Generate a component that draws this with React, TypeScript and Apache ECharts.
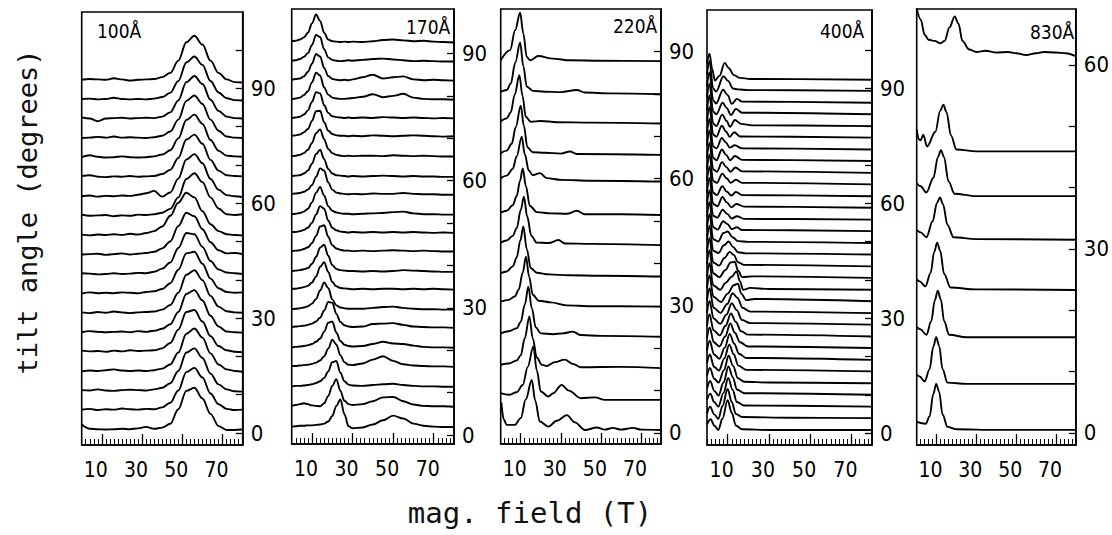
import React, { useEffect, useRef } from "react";
import * as echarts from "echarts";

// ---------- shared axis data ----------
const xTickValues = [10, 30, 50, 70];
const panelLabels = ["100Å", "170Å", "220Å", "400Å", "830Å"];
const p1Ticks = [0, 10, 20, 30, 40, 50, 60, 70, 80, 90, 100];
const p2Ticks = [0, 10, 20, 30, 40, 50, 60, 70, 80, 90];
const p5Ticks = [0, 10, 20, 30, 40, 50, 60];
const yLabels90 = [0, 30, 60, 90];
const yLabels60 = [0, 30, 60];

// ---------- panel 1 (100 Å): grid of fields, heights above baseline ----------
const p1X = [0, 4, 8, 12, 16, 20, 24, 28, 32, 36, 40, 44, 48, 52, 56, 60, 64, 68, 72, 76, 80];
const p1Base = [0.8, 5.9, 10.9, 16, 21.1, 26.1, 31.2, 36.3, 41.3, 46.4, 51.5, 56.5, 61.6, 66.7, 71.7, 76.8, 81.9, 86.9, 92];
const p1H = [
  [1.4, 0.3, 0.2, 0.1, 0.2, 0.3, 0.2, 0.4, 0.8, 0.3, 0.6, 1.6, 5.4, 10.2, 11.0, 8.2, 4.2, 1.0, 0.0, 0.0, 0.1],
  [0.2, 0.4, 0.1, 0.3, 0.2, 0.5, 0.3, 0.2, 0.4, 0.3, 0.8, 2.0, 5.2, 10.0, 11.1, 8.6, 4.4, 1.6, 0.4, 0.1, 0.2],
  [0.3, 0.2, 0.5, 0.2, 0.1, 0.3, 0.4, 0.3, 0.2, 0.5, 0.9, 2.1, 5.3, 10.1, 11.2, 8.7, 4.6, 1.8, 0.5, 0.0, -0.1],
  [0.1, 0.3, 0.2, 0.4, 0.6, 0.3, 0.2, 0.3, 0.2, 0.4, 0.8, 1.9, 5.0, 9.9, 11.3, 8.9, 4.8, 1.9, 0.6, 0.2, 0.0],
  [0.4, 0.2, 0.3, 0.1, 0.4, 0.2, 0.5, 0.3, 0.4, 0.5, 1.0, 2.4, 5.9, 10.5, 11.0, 8.0, 4.2, 1.6, 0.5, 0.1, 0.0],
  [0.2, 0.5, 0.3, 0.2, 0.3, 0.4, 0.2, 0.5, 0.3, 0.6, 1.1, 2.3, 5.5, 10.2, 11.2, 8.5, 4.5, 1.7, 0.4, 0.2, 0.1],
  [0.3, 0.1, 0.4, 0.2, 0.5, 0.3, 0.1, 0.3, 0.4, 0.5, 1.0, 2.2, 5.4, 10.1, 11.3, 8.7, 4.6, 1.8, 0.6, 0.3, 0.2],
  [0.1, 0.4, 0.2, 0.3, 0.2, 0.4, 0.3, 0.2, 0.5, 0.7, 1.3, 2.8, 6.3, 10.6, 11.0, 7.9, 4.0, 1.5, 0.5, 0.3, 0.4],
  [0.4, 0.3, 0.1, 0.2, 0.4, 0.2, 0.3, 0.5, 0.4, 0.8, 1.6, 3.2, 7.0, 10.9, 10.6, 7.3, 3.6, 1.4, 0.6, 0.4, 0.2],
  [0.2, 0.3, 0.4, 0.1, 0.3, 0.5, 0.2, 0.4, 0.6, 0.9, 1.8, 3.6, 7.6, 11.1, 10.2, 6.8, 3.4, 1.3, 0.5, 0.6, 0.3],
  [0.3, 0.1, 0.3, 0.2, 0.4, 0.2, 0.5, 0.3, 0.7, 1.2, 2.4, 5.2, 8.6, 11.2, 10.0, 6.4, 3.0, 1.2, 0.4, 0.2, 0.1],
  [0.5, 0.2, 0.3, 0.4, 0.1, 0.3, 0.2, 0.5, 0.4, 0.6, 1.0, 2.0, 5.0, 9.8, 11.3, 9.0, 5.0, 2.1, 0.6, 0.4, 0.6],
  [0.2, 0.4, 0.1, 0.3, 0.2, 0.4, 0.3, 0.6, 1.0, 1.6, 0.1, 1.2, 4.8, 9.8, 11.2, 8.8, 4.7, 1.9, 0.5, 0.2, 0.0],
  [0.4, 0.6, 0.2, 0.1, 0.3, 0.2, 0.4, 0.2, 0.3, 0.4, 0.9, 2.0, 5.1, 9.9, 11.2, 8.8, 4.6, 1.8, 0.6, 0.4, 0.3],
  [0.3, 0.8, 0.4, 0.2, 0.3, 0.5, 0.3, 0.2, 0.3, 0.5, 1.0, 2.1, 5.2, 10.0, 11.4, 9.0, 4.8, 2.0, 0.7, 0.5, 0.4],
  [0.2, 0.3, 0.5, 0.3, 0.6, 0.3, 0.4, 0.3, 0.2, 0.4, 0.8, 1.9, 5.0, 9.9, 11.3, 9.1, 5.0, 2.1, 0.6, 0.3, 0.2],
  [0.5, 0.2, -0.5, 0.2, 0.3, 0.4, 0.2, 0.3, 0.4, 0.3, 0.7, 1.8, 4.9, 9.7, 11.3, 9.2, 5.1, 2.2, 0.7, 0.3, 0.2],
  [0.3, 0.4, 0.2, 0.3, 0.6, 0.3, 0.2, 0.3, 0.2, 0.4, 0.8, 1.9, 5.0, 9.8, 11.4, 9.2, 5.0, 2.0, 0.5, 0.0, -0.1],
  [0.2, 0.4, 0.3, 0.2, 0.6, 0.3, 0.0, 0.2, 0.3, 0.4, 0.9, 2.0, 5.2, 10.0, 11.7, 9.4, 5.2, 2.0, 0.3, -0.4, -0.5],
];

// ---------- panel 2 (170 Å) ----------
const p2X = [0, 2, 4, 6, 8, 10, 12, 14, 16, 18, 20, 22, 24, 26, 28, 30, 35, 40, 45, 50, 55, 60, 65, 70, 75, 80];
const p2Base = [1.9, 6.6, 11.3, 16, 20.5, 25.2, 29.5, 34.2, 38.4, 43.2, 47.6, 51.9, 56.6, 60.8, 65.6, 70.3, 74.6, 79, 83.5, 88, 92.5];
const p2H = [
  [0.1, 0.2, 0.3, 0.3, 0.4, 0.4, 0.5, 0.6, 0.8, 1.3, 2.6, 5.0, 6.5, 3.0, 0.2, -0.3, -0.1, 0.6, 1.6, 2.7, 2.0, 0.8, 0.3, 0.1, 0.0, 0.0],
  [0.3, 0.5, 0.7, 0.9, 0.7, 0.4, 0.3, 0.2, 0.9, 2.6, 5.0, 6.6, 3.8, 1.5, 0.7, 0.5, 0.7, 1.4, 2.3, 2.4, 1.4, 0.6, 0.3, 0.2, 0.2, 0.1],
  [0.2, 0.3, 0.3, 0.4, 0.5, 0.7, 1.0, 1.4, 2.2, 3.7, 5.9, 6.2, 3.4, 1.4, 0.6, 0.4, 0.3, 0.5, 0.7, 0.8, 0.5, 0.3, 0.2, 0.2, 0.1, 0.1],
  [0.3, 0.3, 0.4, 0.5, 0.6, 0.8, 1.1, 1.6, 2.6, 4.4, 6.5, 5.4, 2.8, 1.2, 0.6, 0.5, 0.9, 1.8, 2.6, 1.5, 0.7, 0.4, 0.3, 0.2, 0.2, 0.1],
  [0.2, 0.3, 0.4, 0.5, 0.7, 1.0, 1.5, 2.3, 3.9, 6.0, 6.3, 3.7, 1.7, 0.8, 0.5, 0.4, 0.5, 1.0, 1.5, 1.1, 1.0, 0.6, 0.3, 0.2, 0.2, 0.1],
  [0.3, 0.4, 0.5, 0.6, 0.8, 1.1, 1.6, 2.5, 4.2, 6.2, 6.0, 3.4, 1.5, 0.7, 0.4, 0.3, 0.4, 1.0, 1.1, 1.2, 0.8, 0.4, 0.3, 0.2, 0.2, 0.1],
  [0.2, 0.3, 0.4, 0.6, 0.9, 1.5, 2.6, 4.6, 6.5, 5.2, 2.5, 1.1, 0.6, 0.4, 0.3, 0.3, 0.3, 0.5, 0.7, 0.8, 0.5, 0.3, 0.2, 0.2, 0.1, 0.1],
  [0.3, 0.3, 0.5, 0.7, 1.0, 1.8, 3.2, 5.5, 6.6, 4.3, 1.9, 0.9, 0.5, 0.4, 0.3, 0.2, 0.3, 0.2, 0.3, 0.3, 0.2, 0.3, 0.2, 0.3, 0.2, 0.1],
  [0.3, 0.4, 0.5, 0.7, 1.0, 2.0, 3.6, 5.8, 6.5, 3.9, 1.7, 0.8, 0.5, 0.4, 0.3, 0.3, 0.2, 0.3, 0.2, 0.3, 0.5, 0.4, 0.3, 0.2, 0.1, 0.1],
  [0.2, 0.3, 0.4, 0.7, 1.1, 2.1, 3.8, 6.0, 6.3, 3.6, 1.6, 0.8, 0.5, 0.3, 0.3, 0.2, 0.3, 0.2, 0.3, 0.4, 0.3, 0.2, 0.3, 0.2, 0.1, 0.1],
  [0.3, 0.3, 0.5, 0.8, 1.3, 2.5, 4.4, 6.4, 5.8, 3.0, 1.3, 0.7, 0.4, 0.3, 0.2, 0.3, 0.2, 0.3, 0.2, 0.3, 0.2, 0.3, 0.2, 0.1, 0.2, 0.1],
  [0.2, 0.3, 0.5, 0.8, 1.5, 3.0, 5.3, 6.6, 4.6, 2.1, 1.0, 0.6, 0.4, 0.3, 0.3, 0.2, 0.3, 0.4, 0.5, 0.7, 0.8, 0.4, 0.2, 0.2, 0.1, 0.1],
  [0.3, 0.4, 0.5, 0.8, 1.3, 2.4, 4.3, 6.3, 5.8, 3.0, 1.3, 0.6, 0.4, 0.3, 0.2, 0.3, 0.2, 0.4, 0.3, 0.3, 0.5, 0.3, 0.2, 0.2, 0.1, 0.1],
  [0.3, 0.4, 0.5, 0.9, 1.6, 3.2, 5.5, 6.5, 4.3, 2.0, 0.9, 0.5, 0.4, 0.3, 0.2, 0.3, 0.2, 0.3, 0.4, 0.3, 0.2, 0.3, 0.2, 0.2, 0.1, 0.1],
  [0.2, 0.3, 0.5, 0.9, 1.7, 3.3, 5.6, 6.5, 4.2, 1.9, 0.9, 0.5, 0.3, 0.2, 0.3, 0.2, 0.3, 0.3, 0.2, 0.4, 0.3, 0.2, 0.3, 0.2, 0.1, 0.1],
  [0.3, 0.4, 0.6, 1.1, 1.9, 3.8, 6.1, 6.2, 3.5, 1.5, 0.7, 0.4, 0.3, 0.3, 0.2, 0.3, 0.2, 0.4, 0.3, 0.2, 0.3, 0.4, 0.3, 0.2, 0.1, 0.2],
  [0.2, 0.3, 0.5, 1.0, 2.0, 4.0, 6.3, 6.0, 3.2, 1.4, 0.6, 0.4, 0.3, 0.2, 0.3, 0.2, 0.3, 0.2, 0.4, 0.3, 0.2, 0.3, 0.2, 0.1, 0.2, 0.1],
  [0.2, 0.4, 0.6, 1.2, 2.1, 4.2, 6.5, 5.8, 3.0, 1.3, 0.6, 0.4, 0.3, 0.3, 0.4, 0.5, 0.8, 1.4, 0.7, 1.0, 1.5, 0.6, 0.3, 0.2, 0.2, 0.1],
  [0.3, 0.5, 0.6, 1.1, 2.2, 4.1, 6.4, 5.8, 3.1, 1.2, 0.5, 0.3, 0.2, 0.3, 0.2, 0.4, 0.9, 1.5, 0.6, 0.9, 1.1, 0.4, 0.2, 0.3, 0.2, 0.1],
  [0.3, 0.4, 0.7, 1.2, 2.1, 4.0, 6.4, 5.9, 3.0, 1.1, 0.5, 0.3, 0.2, 0.3, 0.4, 0.3, 0.5, 0.7, 0.8, 0.6, 0.4, 0.2, 0.3, 0.2, 0.1, 0.1],
  [0.4, 0.5, 0.8, 1.3, 2.4, 4.6, 6.7, 5.2, 2.4, 0.8, 0.4, 0.3, 0.2, 0.3, 0.2, 0.3, 0.2, 0.4, 0.7, 0.8, 0.6, 0.4, 0.5, 0.3, 0.2, 0.1],
];

// ---------- panel 3 (220 Å): [field, height] points per curve ----------
const p3Base = [0.7, 7.8, 15.3, 22.7, 29.8, 36.9, 44.3, 51.4, 59.3, 65.6, 73, 79.9, 87.7];
const p3Pts = [
  [[0.3, 6.5], [1.5, 2.5], [3, 1.2], [7, 1.2], [10, 2.8], [12.5, 7.2], [15.5, 11.8], [17.2, 7], [19.5, 2], [23.8, 0.8], [28, 2.2], [33, 3.5], [37, 1.8], [42, 0], [48, 0.6], [52, 0.1], [56, 0.5], [60, 0.1], [66, 0.5], [70, 0.1], [80, 0]],
  [[0, 1.6], [4, 1.2], [8, 1.8], [11, 3.5], [13.5, 7.8], [16.3, 12.6], [18, 7], [20, 2], [23.8, 0.8], [26, 1.5], [30.4, 3.5], [34, 2.2], [40, 0.4], [47, 0.6], [52, 0], [80, 0]],
  [[0, 0.8], [4, 1.1], [8, 1.8], [10, 3], [12, 7], [14.3, 12.2], [16, 7], [18, 2.5], [20.5, 0.8], [23, 0.5], [27, 1.4], [32, 2], [36, 1], [40, 0.2], [60, 0.3], [80, 0]],
  [[0, 0.8], [4, 1.3], [8, 2], [10, 3.5], [12, 7.5], [13.8, 11.8], [15.5, 6.8], [17.5, 2.2], [20, 0.8], [26, 0.6], [31, 0.8], [36, 1.2], [40, 0.4], [50, 0.2], [80, 0]],
  [[0, 1.2], [4, 1.6], [7, 2.4], [9, 4], [11, 8], [12.6, 11.8], [14.2, 7], [16, 2.8], [19, 1.4], [25, 1], [33, 0.3], [45, 0.1], [80, 0]],
  [[0, 0.8], [3, 1.2], [6, 2.4], [8, 4.5], [9.8, 8.5], [11.3, 11.8], [13, 6.5], [15, 2], [18, 0.9], [24, 0.5], [34, 0.3], [50, 0.2], [80, 0]],
  [[0, 0.6], [3, 1.1], [6, 2.2], [8, 4], [10, 8.3], [11.6, 11.4], [13.2, 6.8], [15.3, 2.2], [18, 0.6], [24, 0.5], [28.8, 1.2], [32, 0.4], [45, 0.3], [80, 0]],
  [[0, 0.6], [3, 1], [6, 2.3], [8, 4.5], [9.6, 8], [11, 11], [12.6, 6.8], [14.5, 2.2], [18, 0.7], [25, 0.4], [33, 0.3], [38, 1], [42, 0.2], [60, 0.2], [80, 0]],
  [[0, 0.8], [3, 1.4], [6, 3], [8, 6], [10.5, 10.6], [12, 6.5], [14, 2.6], [16, 1.5], [19.6, 2], [23, 0.8], [30, 0.4], [45, 0.2], [80, 0]],
  [[0, 0.4], [3, 1], [5.5, 2.6], [7.5, 6.5], [10, 11.6], [11.6, 6.8], [13.3, 1.8], [16, 0.6], [22, 0.5], [30, 0.3], [34.6, 0.8], [38, 0.2], [80, 0]],
  [[0, 0.5], [3, 1.2], [5, 2.6], [7, 6.8], [9.3, 11.4], [10.9, 6.5], [12.5, 1.6], [15, 0.4], [20, 0.6], [28, 0.3], [45, 0.2], [80, 0]],
  [[0, 0.6], [3, 1], [5, 2.5], [7.3, 7.5], [9.7, 12.2], [11.3, 6.6], [13, 1.8], [16, 0.8], [22, 0.6], [30, 0.5], [38, 1], [42, 0.4], [55, 0.2], [80, 0]],
  [[0, 0.2], [4.7, 2.6], [7.2, 7.3], [9.7, 11.4], [11.3, 6.5], [13, 1], [14.6, 0.2], [18.8, 1.2], [26, 0.6], [34.6, 0.2], [50, 0.1], [80, 0]],
];

// ---------- panel 4 (400 Å) ----------
const p4Base = [0.8, 3.9, 6.9, 10, 13, 16.1, 19.1, 22.2, 25.2, 28.3, 31.3, 34.4, 37.4, 40.5, 43.5, 46.6, 49.6, 52.7, 55.7, 58.8, 61.8, 64.9, 67.9, 71, 74, 77.1, 80.1, 83.2, 86.2, 89.3, 92.2];
const p4Pts = [
  [[0, 1.5], [1.8, 2.8], [3.5, 1.2], [5.5, 0], [7.5, 3], [10, 7.8], [12, 4.5], [14, 1.2], [17, 0.2], [30, 0], [80, 0]],
  [[0, 1.2], [1.5, 3], [3.5, 1], [5.5, -0.2], [7.5, 3.2], [10, 7.6], [12, 4.2], [14, 1.1], [17, 0.3], [40, 0.1], [80, 0]],
  [[0, 1.8], [1.6, 3.4], [3.5, 1.2], [5.5, 0], [8, 3.6], [10.3, 7.5], [12.4, 4.4], [14.5, 1.2], [18, 0.3], [80, 0]],
  [[0, 1.6], [1.5, 3.6], [3.6, 1], [5.6, -0.2], [8, 3.2], [10.4, 7.4], [12.5, 4.6], [14.5, 1.4], [18, 0.4], [80, 0]],
  [[0, 2], [1.4, 4], [3.5, 1.2], [5.6, 0.2], [8.2, 3.4], [10.5, 7.2], [12.6, 4.6], [15, 1.3], [18, 0.4], [30, 0.2], [80, 0]],
  [[0, 2.2], [1.4, 4.4], [3.4, 1.2], [5.8, 0.2], [8.4, 3.4], [10.8, 7], [13, 4.4], [15.2, 1.5], [19, 0.4], [80, 0]],
  [[0, 2.4], [1.3, 5], [3.4, 1.4], [6, 0.3], [8.6, 3.2], [11, 6.8], [13.2, 4.2], [15.5, 1.6], [19, 0.5], [80, 0]],
  [[0, 2.6], [1.3, 5.4], [3.3, 1.5], [6, 0.4], [8.8, 3], [11.3, 6.4], [13.5, 4], [16, 1.5], [20, 0.4], [80, 0]],
  [[0, 2.8], [1.2, 5.8], [3.2, 1.6], [6.2, 0.3], [9, 2.8], [11.6, 6], [14, 3.8], [16.5, 1.4], [20, 0.5], [80, 0]],
  [[0, 3], [1.2, 6.2], [3.2, 1.6], [6.4, 0.2], [9.4, 2.6], [12, 5.6], [14.4, 3.8], [17, 1.2], [21, 0.4], [80, 0]],
  [[0, 3.2], [1.2, 6.5], [3.2, 1.4], [6.6, 0.1], [9.8, 2.4], [12.4, 5.2], [14.8, 4], [17.2, 1.4], [21, 0.4], [80, 0]],
  [[0, 3.4], [1.2, 6.8], [3.1, 1.2], [6.8, -0.2], [10, 2], [13, 4.2], [15, 4.6], [16.6, 2], [19, 0.3], [23, 0.6], [80, 0]],
  [[0, 3.5], [1.2, 7], [3, 1.2], [6.4, 0], [9, 1.8], [12, 3.4], [14.3, 4.8], [16, 2.2], [17.5, 0], [21, 0.5], [30, 0.2], [80, 0]],
  [[0, 3.6], [1.2, 7.2], [3, 1.2], [6, 0.2], [8.8, 2], [11.5, 4], [13.4, 4.2], [15.2, 1.8], [17, 0.2], [22, 0.4], [80, 0]],
  [[0, 3.6], [1.2, 7.4], [3, 1], [5.8, 0.2], [8.5, 2.2], [11, 3.8], [13, 3], [15, 1.1], [18, 0.4], [80, 0]],
  [[0, 3.8], [1.2, 7.5], [3, 1], [5.6, 0.4], [8.2, 2.4], [10.5, 3.4], [12.6, 2], [15, 0.6], [19, 0.3], [80, 0]],
  [[0, 3.8], [1.2, 7.6], [3, 1], [5.4, 0.4], [8, 2.6], [10, 3], [12.4, 1.5], [15, 0.5], [20, 0.3], [80, 0]],
  [[0, 3.8], [1.2, 7.6], [3, 1], [5.2, 0.4], [7.8, 2.6], [10, 1.8], [12, 0.5], [14.5, 1], [17, 0.3], [80, 0]],
  [[0, 3.9], [1.2, 7.7], [3, 1], [5, 0.5], [7.6, 2.6], [9.8, 1.5], [12, 0.3], [14.5, 0.9], [18, 0.2], [80, 0]],
  [[0, 3.9], [1.2, 7.8], [3, 1], [5, 0.4], [7.5, 2.8], [9.6, 1.4], [11.8, 0.1], [14.2, 1], [18, 0.3], [80, 0]],
  [[0, 4], [1.2, 7.8], [3, 0.9], [4.8, 0.3], [7.4, 2.6], [9.6, 1.2], [11.8, 0.2], [14, 1.1], [17, 0.3], [80, 0]],
  [[0, 4], [1.2, 7.8], [3, 0.9], [4.8, 0.4], [7.4, 2.8], [9.5, 1.6], [11.5, 0.4], [14, 1.2], [17, 0.4], [80, 0]],
  [[0, 4], [1.2, 7.9], [3, 0.9], [4.8, 0.3], [7.3, 2.8], [9.4, 1.5], [11.4, 0.3], [13.8, 1.4], [17, 0.4], [80, 0]],
  [[0, 4.1], [1.2, 8], [3, 0.8], [4.6, 0.2], [7.2, 3], [9.3, 1.6], [11.2, 0.2], [13.6, 1.3], [17, 0.3], [80, 0]],
  [[0, 4.1], [1.2, 8], [3, 0.8], [4.6, 0.3], [7.2, 3], [9.2, 1.8], [11, 0.5], [13.4, 1.1], [17, 0.3], [80, 0]],
  [[0, 4.2], [1.2, 8], [3, 0.8], [4.5, 0.2], [7.2, 3.1], [9.2, 1.6], [11, 0.2], [13.2, 1.4], [16, 0.3], [80, 0]],
  [[0, 4.2], [1.2, 8], [3, 0.7], [4.5, 0], [7.4, 3], [9.4, 1.4], [11.2, -0.2], [13.5, 1.6], [16.5, 0.6], [22, 0.2], [80, 0]],
  [[0, 4.2], [1.2, 8], [3, 0.7], [4.5, 0], [7.6, 3], [9.6, 1.6], [11.6, -0.2], [14, 1.4], [17, 0.4], [80, 0]],
  [[0, 4.3], [1.2, 8], [3, 0.6], [4.4, -0.2], [7.8, 3.4], [10, 2], [12, -0.3], [14.5, 1], [17, 0.3], [80, 0]],
  [[0, 4.3], [1.2, 7.8], [3, 0.6], [4.4, -0.2], [8, 3.8], [10.2, 2.6], [12.6, 0.6], [15, 0.4], [20, 0.2], [80, 0]],
  [[0, 4.2], [1.2, 6.8], [2.6, 2.6], [3.8, -0.2], [6, 1], [8.6, 4.4], [10.6, 3], [13, 1.2], [16, 0.5], [21, 0.2], [80, 0]],
];

// ---------- panel 5 (830 Å) ----------
const p5Base = [0.5, 8, 15.6, 23.3, 31.5, 38.6, 45.9, 61.9];
const p5Pts = [
  [[0, 1.3], [4.5, 1.0], [6.5, 2.2], [8.3, 5.8], [9.8, 7.5], [11.3, 6.2], [13, 2.5], [15.5, 0.5], [20, 0.1], [40, 0], [80, 0]],
  [[0, 1.5], [1.5, 1.2], [4, 0.4], [6.5, 2.4], [8.3, 6], [9.8, 7.6], [11.3, 6.2], [13, 2.4], [15.5, 0.2], [25, 0], [80, 0]],
  [[0, 1.7], [1.8, 1.3], [4.9, 0.4], [7.3, 2.6], [9.1, 6], [10.6, 7.6], [12.1, 6.2], [13.8, 2.6], [16.3, 0.4], [25, 0], [80, 0]],
  [[0, 1.8], [1.5, 1.4], [4.4, 0.6], [7, 2.8], [8.8, 6.2], [10.3, 7.7], [11.8, 6.4], [13.8, 2.6], [17, 0.4], [30, 0.1], [80, 0]],
  [[0, 1.6], [2, 1.2], [4.9, 0.4], [8, 3], [10.2, 6], [11.7, 6.9], [13.2, 5.8], [15.5, 2.4], [18.5, 0.4], [30, 0.1], [80, 0]],
  [[0, 2.1], [2, 1.6], [4.9, 0.6], [8.4, 3], [10.7, 6.4], [12.2, 7.5], [13.7, 6.4], [16, 2.4], [19, 0.4], [30, 0], [80, 0]],
  [[0, 3.6], [1, 2], [2, 1.8], [3.3, 2.7], [5.2, 0.8], [9.4, 3.2], [11.8, 6.6], [13.4, 7.6], [15, 6.4], [17.2, 2.6], [20, 0.3], [30, 0], [80, 0]],
  [[0, 7.3], [2, 5.5], [4, 3], [6, 2.2], [9, 2], [12, 1.6], [14, 2], [16.5, 4.2], [19.1, 6], [21, 4.8], [23, 2], [26.4, 0.6], [30, 0.2], [34.6, 0.4], [40, 0.1], [46, 0.2], [50, 0], [55, -0.3], [60, 0], [64, 0.2], [70, 0.1], [75, 0], [80, -0.5]],
];

// ---------- layout ----------
const W = 1112;
const H = 535;
const LBL_FONT = "'DejaVu Sans Condensed', 'DejaVu Sans', sans-serif";

type Panel = {
  left: number; width: number; top: number; bottom: number;
  ymin: number; ymax: number; ticks: number[]; labels: number[];
};

const panels: Panel[] = [
  { left: 81.7, width: 161, top: 12, bottom: 445, ymin: -3.13, ymax: 109.9, ticks: p1Ticks, labels: yLabels90 },
  { left: 291.7, width: 162.3, top: 9, bottom: 444, ymin: -2.1, ymax: 100.5, ticks: p2Ticks, labels: yLabels90 },
  { left: 500.7, width: 160.3, top: 9, bottom: 444, ymin: -2.6, ymax: 100, ticks: p2Ticks, labels: yLabels90 },
  { left: 707, width: 165, top: 10, bottom: 445, ymin: -3.1, ymax: 110.4, ticks: p1Ticks, labels: yLabels90 },
  { left: 916.7, width: 164, top: 9, bottom: 445, ymin: -1.96, ymax: 69.1, ticks: p5Ticks, labels: yLabels60 },
];

function buildOption() {
  const grid: any[] = [];
  const xAxis: any[] = [];
  const yAxis: any[] = [];
  const series: any[] = [];

  panels.forEach((p, i) => {
    grid.push({
      left: p.left, top: p.top, width: p.width, height: p.bottom - p.top,
      show: true, borderColor: "#000", borderWidth: 1.6, backgroundColor: "transparent",
    });
    xAxis.push({
      type: "value", gridIndex: i, min: 0, max: 80, position: "bottom",
      axisLine: { show: true, onZero: false, lineStyle: { color: "#000", width: 1.6 } },
      axisTick: { show: true, inside: true, length: 11, customValues: xTickValues, lineStyle: { color: "#000", width: 1.3 } },
      axisLabel: {
        show: true, customValues: xTickValues, color: "#000", fontSize: 21, fontFamily: LBL_FONT,
        margin: 14, padding: [0, 12, 0, 0],
      },
      splitLine: { show: false },
    });
    xAxis.push({
      type: "value", gridIndex: i, min: 0, max: 80, interval: 2, position: "bottom",
      axisLine: { show: false, onZero: false },
      axisTick: { show: true, inside: true, length: 6, lineStyle: { color: "#000", width: 1 } },
      axisLabel: { show: false },
      splitLine: { show: false },
    });
    yAxis.push({
      type: "value", gridIndex: i, position: "right", min: p.ymin, max: p.ymax,
      axisLine: { show: true, onZero: false, lineStyle: { color: "#000", width: 1.6 } },
      axisTick: { show: true, inside: true, length: 7, customValues: p.ticks, lineStyle: { color: "#000", width: 1.3 } },
      axisLabel: { show: true, customValues: p.labels, color: "#000", fontSize: 22, fontFamily: LBL_FONT, margin: 8 },
      splitLine: { show: false },
    });
  });

  const lineSeries = (panel: number, data: number[][]) => ({
    type: "line",
    xAxisIndex: panel * 2,
    yAxisIndex: panel,
    data,
    showSymbol: false,
    symbol: "none",
    smooth: 0.35,
    smoothMonotone: "x",
    silent: true,
    clip: true,
    lineStyle: { color: "#000", width: 1.9 },
  });

  p1H.forEach((hs, k) => series.push(lineSeries(0, p1X.map((x, j) => [x, p1Base[k] + hs[j]]))));
  p2H.forEach((hs, k) => series.push(lineSeries(1, p2X.map((x, j) => [x, p2Base[k] + hs[j]]))));
  p3Pts.forEach((pts, k) => series.push(lineSeries(2, pts.map(([x, h]) => [x, p3Base[k] + h]))));
  p4Pts.forEach((pts, k) => series.push(lineSeries(3, pts.map(([x, h]) => [x, p4Base[k] + h]))));
  p5Pts.forEach((pts, k) => series.push(lineSeries(4, pts.map(([x, h]) => [x, p5Base[k] + h]))));

  const labelPos = [
    { x: 97, y: 21 },
    { x: 406, y: 17 },
    { x: 613, y: 16 },
    { x: 820, y: 21 },
    { x: 1030, y: 22 },
  ];

  const graphic: any[] = panelLabels.map((t, i) => ({
    type: "text",
    left: labelPos[i].x,
    top: labelPos[i].y,
    silent: true,
    style: { text: t, fill: "#000", font: `19px ${LBL_FONT}` },
  }));

  graphic.push({
    type: "text",
    x: 27,
    y: 212,
    rotation: Math.PI / 2,
    silent: true,
    style: {
      text: "tilt angle (degrees)",
      fill: "#111",
      font: "27px 'DejaVu Sans Mono', monospace",
      align: "center",
      verticalAlign: "middle",
    },
  });
  graphic.push({
    type: "text",
    x: 530,
    y: 513,
    silent: true,
    style: {
      text: "mag. field (T)",
      fill: "#111",
      font: "29px 'DejaVu Sans Mono', monospace",
      align: "center",
      verticalAlign: "middle",
    },
  });

  return {
    animation: false,
    backgroundColor: "#fff",
    grid,
    xAxis,
    yAxis,
    series,
    graphic,
  };
}

export default function App() {
  const ref = useRef<HTMLDivElement | null>(null);
  useEffect(() => {
    if (!ref.current) return;
    const chart = echarts.init(ref.current, undefined, { renderer: "svg" });
    chart.setOption(buildOption() as any);
    return () => chart.dispose();
  }, []);
  return (
    <div
      ref={ref}
      style={{ position: "fixed", left: 0, top: 0, width: W, height: H, background: "#fff" }}
    />
  );
}
